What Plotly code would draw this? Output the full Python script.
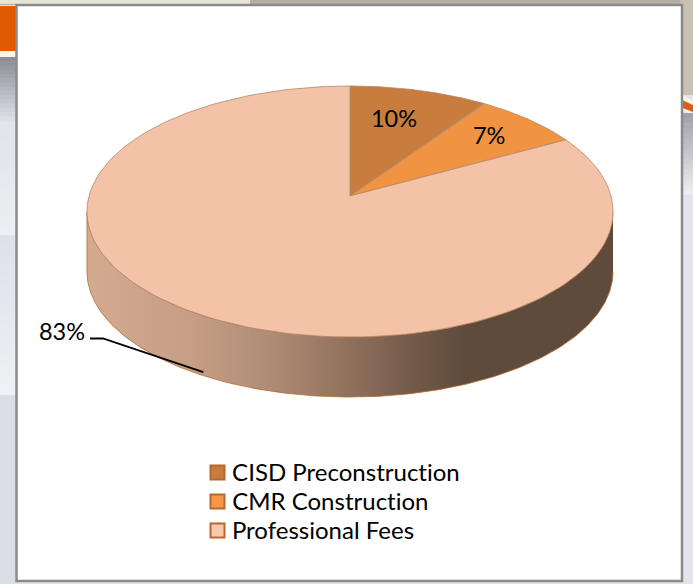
import numpy as np
import plotly.graph_objects as go

categories = ["CISD Preconstruction", "CMR Construction", "Professional Fees"]
values = [9.6, 7.4, 83.0]
face_colors = ["#C87C3E", "#F09343", "#F4C2A6"]
swatch_colors = ["#C87C3E", "#F79646", "#FBC7AE"]
edge_color = "#B5692F"

# projection of the tilted disc to screen pixels
CX, CY, RX, RY, KP, DEPTH = 350, 196, 261, 123.6, 0.1235, 60


def proj(theta, r=1.0):
    u, v = r * np.sin(theta), r * np.cos(theta)
    d = 1 + KP * v
    return CX + RX * u / d, CY - RY * v / d


def pct(v):
    return f"{round(v)}%"


fig = go.Figure()
shapes = []


def rect(x0, y0, x1, y1, c, layer="below"):
    shapes.append(dict(type="rect", x0=x0, y0=y0, x1=x1, y1=y1, fillcolor=c,
                       line_width=0, layer=layer))


def vgrad(x0, x1, y0, y1, c0, c1, n=16):
    c0, c1 = np.array(c0, float), np.array(c1, float)
    ys = np.linspace(y0, y1, n + 1)
    for i in range(n):
        c = c0 + (c1 - c0) * i / (n - 1)
        rect(x0, ys[i], x1, ys[i + 1] + 0.5, "rgb(%d,%d,%d)" % tuple(c))


# slide backdrop
rect(0, 0, 693, 584, "#E2E4EC")
rect(0, 0, 693, 5, "#B5ACA2")
rect(0, 0, 250, 4, "#E9E4D8")
rect(0, 6, 18, 51, "#E05A00")
rect(0, 51, 18, 57, "#FBF3E8")
vgrad(0, 18, 57, 125, (140, 142, 148), (226, 228, 236))
vgrad(0, 18, 125, 235, (226, 228, 234), (238, 239, 243))
vgrad(0, 18, 235, 395, (222, 225, 234), (240, 241, 244))
rect(0, 395, 18, 584, "#DCDEE7")
rect(680, 0, 693, 95, "#C9C1B6")
shapes.append(dict(type="path", path="M 680 93 L 693 101 L 693 114 L 680 110 Z",
                   fillcolor="#FBF3E8", line_width=0, layer="below"))
shapes.append(dict(type="path", path="M 680 99 L 693 105 L 693 112 L 680 107 Z",
                   fillcolor="#D9601A", line_width=0, layer="below"))
vgrad(680, 693, 113, 195, (160, 162, 168), (236, 237, 241))
rect(680, 195, 693, 584, "#E3E4EC")
# white chart card with grey frame
shapes.append(dict(type="rect", x0=16.5, y0=5, x1=682, y1=581, fillcolor="#FFFFFF",
                   line=dict(color="#8A8A8A", width=2.5), layer="below"))

# side wall: visible half of the rim, dropped by DEPTH
t_ext = np.radians(np.linspace(60, 300, 400))
xs, ys = proj(t_ext)
left_i, right_i = np.argmin(xs), np.argmax(xs)
lo, hi = sorted([left_i, right_i])
wx, wy = xs[lo:hi + 1], ys[lo:hi + 1]
poly_x = np.concatenate([wx, wx[::-1]])
poly_y = np.concatenate([wy, wy[::-1] + DEPTH])
fig.add_trace(go.Scatter(
    x=poly_x, y=poly_y, mode="lines", fill="toself", showlegend=False, hoverinfo="skip",
    line=dict(color=edge_color, width=0.8),
    fillgradient=dict(type="horizontal", colorscale=[
        [0.0, "#D4AB91"], [0.2, "#C69E85"], [0.36, "#AE8A74"], [0.5, "#8F705C"],
        [0.62, "#725A49"], [0.72, "#5F4B3C"], [1.0, "#5F4B3C"]]),
))

# pie top: slices clockwise from 12 o'clock
edges = np.cumsum([0] + values) / sum(values) * 2 * np.pi
for i, name in enumerate(categories):
    t = np.linspace(edges[i], edges[i + 1], 160)
    px, py = proj(t)
    fig.add_trace(go.Scatter(
        x=np.concatenate([[CX], px, [CX]]), y=np.concatenate([[CY], py, [CY]]),
        mode="lines", fill="toself", fillcolor=face_colors[i],
        line=dict(color="#B08868", width=0.8), showlegend=False,
        hoverinfo="text", text=f"{name}: {pct(values[i])}",
    ))

# legend: swatch column and real-text labels
SWATCH_X, TEXT_X, LEGEND_Y = 217.5, 232, [472.5, 501.5, 530.5]
fig.add_trace(go.Scatter(
    x=[SWATCH_X] * 3, y=LEGEND_Y, mode="markers",
    marker=dict(symbol="square", size=14, color=swatch_colors,
                line=dict(color=edge_color, width=2)),
    showlegend=False, hoverinfo="skip", cliponaxis=False,
))

# data labels
label_r = [0.70, 0.75]
label_dx = [-6, 2]
anns = []
for i in range(2):
    mid = (edges[i] + edges[i + 1]) / 2
    lx, ly = proj(mid, label_r[i])
    anns.append(dict(x=lx, y=ly - 2, xshift=label_dx[i], text=pct(values[i]), showarrow=False,
                     font=dict(family="Lato", size=23.5, color="#000000")))
mid = (edges[2] + edges[3]) / 2
ex, ey = proj(mid)
ey += DEPTH - 3
fig.add_trace(go.Scatter(x=[90, 103, ex + 2], y=[338.5, 338.5, ey], mode="lines",
                         line=dict(color="#000000", width=1.8),
                         showlegend=False, hoverinfo="skip"))
anns.append(dict(x=62, y=331, text=pct(values[2]), showarrow=False,
                 font=dict(family="Lato", size=23.5, color="#000000")))
for name, ly in zip(categories, LEGEND_Y):
    anns.append(dict(x=TEXT_X, y=ly - 1, text=name, showarrow=False, xanchor="left",
                     xshift=-2, font=dict(family="Lato", size=24, color="#000000")))

fig.update_layout(
    width=693, height=584, autosize=False,
    margin=dict(l=0, r=0, t=0, b=0),
    paper_bgcolor="#E2E4EC", plot_bgcolor="rgba(0,0,0,0)",
    xaxis=dict(range=[0, 693], visible=False, fixedrange=True),
    yaxis=dict(range=[584, 0], visible=False, fixedrange=True),
    shapes=shapes, annotations=anns,
    showlegend=False,
)
fig.write_html("out.html", config=dict(displayModeBar=False),
               post_script="document.body.style.margin='0';document.documentElement.style.overflow='hidden';"
                           "var s=document.createElement('style');"
                           "s.textContent='text{font-variant-ligatures:none!important;"
                           "font-feature-settings:\"liga\" 0,\"clig\" 0!important;letter-spacing:0.01px}';"
                           "document.head.appendChild(s);")
